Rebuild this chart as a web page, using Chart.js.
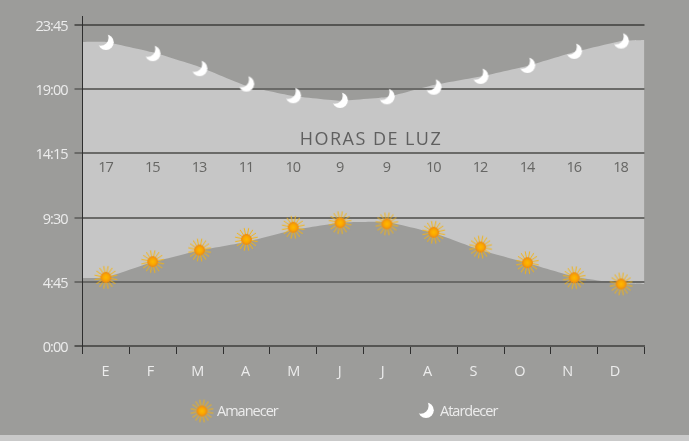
<!DOCTYPE html>
<html>
<head>
<meta charset="utf-8">
<style>
html,body{margin:0;padding:0;width:689px;height:441px;overflow:hidden;background:linear-gradient(#9c9c9a 435px,#c9c9c9 435px);}
canvas{display:block;filter:blur(0.4px);}
</style>
<script src="https://cdn.jsdelivr.net/npm/chart.js@4"></script>
</head>
<body>
<canvas id="c" width="689" height="441"></canvas>
<script>
const months = ["E","F","M","A","M","J","J","A","S","O","N","D"];
const monthLabelAt = [0.48,1.44,2.45,3.47,4.5,5.48,6.4,7.36,8.34,9.33,10.35,11.36];
const tickHours = [0,4.75,9.5,14.25,19,23.75];
const tickNames = ["0:00","4:45","9:30","14:15","19:00","23:45"];
const sunrise = [5.08,6.24,7.10,7.89,8.78,9.12,9.03,8.41,7.32,6.16,5.05,4.59];
const sunset = [22.49,21.66,20.55,19.41,18.55,18.20,18.47,19.18,19.98,20.79,21.83,22.59];
const daylightHours = ["17","15","13","11","10","9","9","10","12","14","16","18"];
const bandX = [0,0.5,1.5,2.5,3.5,4.5,5.5,6.5,7.5,8.5,9.5,10.5,11.5,12];
const bandTop = [22.49,22.49,21.72,20.64,19.24,18.50,18.15,18.42,19.31,19.94,20.72,21.75,22.57,22.64];
const bandBottom = [5.03,5.07,6.21,7.07,7.69,8.58,9.12,9.17,8.36,7.10,6.14,5.13,4.62,4.59];

function sunSprite(){
  const c=document.createElement('canvas');c.width=c.height=25;
  const g=c.getContext('2d');g.translate(12.5,12.5);
  g.strokeStyle='#f4b414';g.lineWidth=1;
  for(let i=0;i<16;i++){
    const a=(i+0.5)/16*Math.PI*2;
    g.beginPath();g.moveTo(Math.cos(a)*4.5,Math.sin(a)*4.5);g.lineTo(Math.cos(a)*11.5,Math.sin(a)*11.5);g.stroke();
  }
  const d=g.createRadialGradient(0,0,0,0,0,5.4);
  d.addColorStop(0,'#ffb800');d.addColorStop(0.55,'#fba800');d.addColorStop(1,'#ea8616');
  g.fillStyle=d;g.beginPath();g.arc(0,0,5.4,0,Math.PI*2);g.fill();
  return c;
}
function moonSprite(){
  const c=document.createElement('canvas');c.width=c.height=20;
  const g=c.getContext('2d');g.translate(10,10);
  g.fillStyle='#ffffff';g.beginPath();g.arc(0,0.3,7.8,0,Math.PI*2);g.fill();
  g.globalCompositeOperation='destination-out';
  g.beginPath();g.arc(-5.4,-4.2,8,0,Math.PI*2);g.fill();
  return c;
}
const sunImg=sunSprite(), moonImg=moonSprite();
const bodyFont='"Open Sans"';
const tightText='-1px';

const overlayText={
  id:'overlayText',
  beforeDraw(chart){chart.ctx.letterSpacing=tightText;},
  afterDatasetsDraw(chart){
    const g=chart.ctx,x=chart.scales.x,y=chart.scales.y;
    g.save();
    g.textAlign='center';g.textBaseline='middle';
    g.fillStyle='#666664';
    g.font='14.5px '+bodyFont;
    daylightHours.forEach((h,i)=>g.fillText(h,x.getPixelForValue(i)-0.5,y.getPixelForValue(13.17)));
    g.font='18px '+bodyFont;
    g.letterSpacing='1.45px';
    g.fillStyle='#5f5f5f';
    g.fillText('HORAS DE LUZ',371,y.getPixelForValue(15.25));
    g.restore();
  },
  afterDraw(chart){
    const g=chart.ctx;
    g.save();
    g.textBaseline='middle';g.textAlign='left';
    g.fillStyle='#ececec';g.font='14.5px '+bodyFont;
    g.drawImage(sunImg,202-12.5,411-12.5);
    g.fillText('Amanecer',217,411.5);
    g.drawImage(moonImg,426-10,410-10);
    g.fillText('Atardecer',440,411.5);
    g.restore();
  }
};

new Chart(document.getElementById('c'),{
  type:'line',
  data:{
    labels:months,
    datasets:[
      {label:'top',xAxisID:'xm',data:bandX.map((v,i)=>({x:v,y:bandTop[i]})),fill:'+1',backgroundColor:'#c6c6c6',borderWidth:0,pointRadius:0,tension:0.1},
      {label:'bottom',xAxisID:'xm',data:bandX.map((v,i)=>({x:v,y:bandBottom[i]})),fill:false,borderWidth:0,pointRadius:0,tension:0.1},
      {label:'Amanecer',xAxisID:'x',data:sunrise,showLine:false,pointStyle:sunImg,pointRadius:12},
      {label:'Atardecer',xAxisID:'x',data:sunset,showLine:false,pointStyle:moonImg,pointRadius:10}
    ]
  },
  options:{
    responsive:false,animation:false,
    layout:{padding:{top:16,left:0,right:44.5,bottom:0}},
    plugins:{legend:{display:false},tooltip:{enabled:false},filler:{drawTime:'beforeDraw'}},
    scales:{
      x:{
        type:'category',position:'bottom',weight:0,offset:true,
        grid:{offset:true,drawOnChartArea:false,drawTicks:true,tickLength:8,color:'#2e2e2e',lineWidth:1},
        border:{color:'#555553',width:2},
        ticks:{display:false},
        afterFit(s){s.height=8;}
      },
      xm:{
        type:'linear',position:'bottom',weight:1,min:0,max:12,
        grid:{display:false},border:{display:false},
        ticks:{color:'#ececec',font:{family:bodyFont,size:14.5},padding:1,autoSkip:false,maxRotation:0,includeBounds:false,callback:(v,i)=>months[i]},
        afterBuildTicks(s){s.ticks=monthLabelAt.map(v=>({value:v}));},
        afterFit(s){s.height=87;}
      },
      y:{
        type:'linear',position:'left',min:0,max:24.41,
        grid:{color:c=>(c.tick&&(c.tick.value===23.75||c.tick.value===0))?'#555553':'#6a6a68',lineWidth:2,tickLength:8},
        border:{color:'#2e2e2e',width:1},
        ticks:{color:'#ececec',font:{family:bodyFont,size:14.5},padding:7,labelOffset:2,autoSkip:false,callback:(v)=>tickNames[tickHours.indexOf(v)]},
        afterBuildTicks(s){s.ticks=tickHours.map(v=>({value:v}));},
        afterFit(s){s.width=82.5;}
      }
    }
  },
  plugins:[overlayText]
});
</script>
</body>
</html>
